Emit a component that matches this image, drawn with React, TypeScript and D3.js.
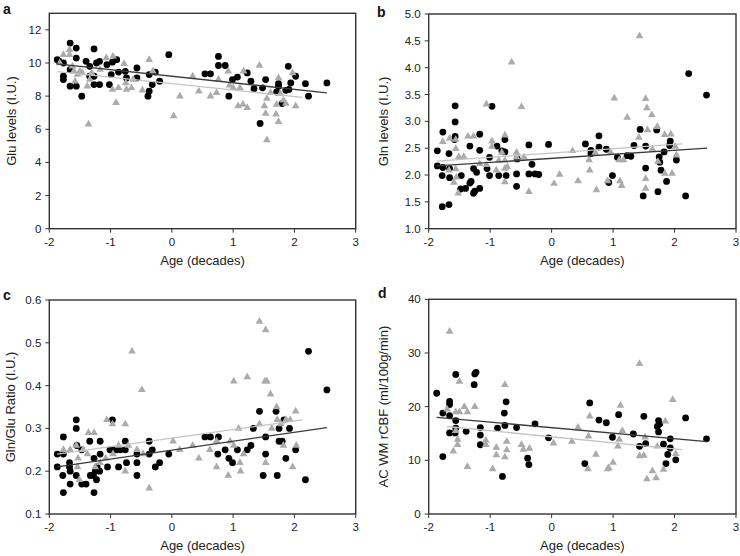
import React from 'react';
import * as d3 from 'd3';

type P = [number, number];

const xTicks = [-2, -1, 0, 1, 2, 3];
const aYTicks = [0, 2, 4, 6, 8, 10, 12];
const bYTicks = [1.0, 1.5, 2.0, 2.5, 3.0, 3.5, 4.0, 4.5, 5.0];
const cYTicks = [0.1, 0.2, 0.3, 0.4, 0.5, 0.6];
const dYTicks = [0, 10, 20, 30, 40];

// Panel a: Glu levels
const aCircles: P[] = [
  [-1.87, 10.2], [-1.84, 10.1], [-1.77, 10.0], [-1.77, 9.2], [-1.77, 9.0], [-1.66, 11.2], [-1.56, 10.9],
  [-1.56, 10.3], [-1.66, 8.6], [-1.56, 8.6], [-1.47, 8.0], [-1.66, 9.6], [-1.40, 10.1], [-1.34, 9.8],
  [-1.27, 10.85], [-1.27, 9.2], [-1.27, 8.7], [-1.23, 10.0], [-1.34, 9.2], [-1.18, 8.7], [-1.18, 10.1],
  [-1.06, 9.9], [-1.02, 8.7], [-0.99, 9.3], [-0.97, 10.05], [-0.90, 10.2], [-0.87, 9.45], [-0.76, 9.5],
  [-0.74, 9.1], [-0.57, 9.7], [-0.57, 9.1], [-0.39, 8.0], [-0.37, 8.3], [-0.37, 9.3], [-0.27, 9.45],
  [-0.32, 8.7], [-0.20, 8.9], [-0.05, 10.5], [0.54, 9.35], [0.63, 9.35], [0.76, 10.4], [0.76, 9.85],
  [0.87, 9.85], [0.93, 8.0], [0.99, 9.0], [1.07, 9.15], [1.23, 9.4], [1.29, 8.9], [1.34, 8.45],
  [1.44, 6.35], [1.48, 8.5], [1.53, 9.0], [1.71, 8.25], [1.74, 8.75], [1.74, 8.6], [1.80, 7.55],
  [1.90, 9.8], [1.86, 8.35], [1.91, 8.4], [1.94, 8.8], [2.02, 9.2], [2.18, 8.75], [2.23, 8.0], [2.53, 8.8],
];
const aTriangles: P[] = [
  [-1.77, 10.5], [-1.67, 10.8], [-1.67, 10.5], [-1.83, 10.0], [-1.62, 9.8], [-1.60, 9.5], [-1.54, 9.3],
  [-1.50, 9.5], [-1.58, 8.9], [-1.46, 9.4], [-1.38, 8.6], [-1.36, 6.3], [-1.31, 9.4], [-1.34, 9.0],
  [-1.17, 9.6], [-1.07, 10.3], [-0.97, 8.4], [-0.91, 7.6], [-0.87, 8.5], [-0.96, 10.4], [-0.78, 9.95],
  [-0.75, 8.8], [-0.74, 8.4], [-0.66, 8.5], [-0.63, 9.0], [-0.48, 8.35], [-0.37, 10.2], [-0.31, 9.5],
  [0.03, 6.8], [0.13, 8.0], [0.34, 9.2], [0.44, 8.3], [0.63, 8.0], [0.73, 8.2], [0.76, 9.0], [0.92, 9.5],
  [0.94, 8.65], [1.0, 8.5], [1.08, 7.4], [1.11, 8.5], [1.16, 7.5], [1.17, 9.5], [1.23, 7.3], [1.43, 9.85],
  [1.51, 7.4], [1.53, 6.95], [1.55, 7.85], [1.55, 5.35], [1.61, 8.2], [1.70, 6.9], [1.71, 7.5],
  [1.74, 9.1], [1.74, 6.45], [1.82, 7.75], [1.86, 7.55], [1.97, 9.4], [2.02, 7.4], [1.77, 8.15],
];
const aBlackFit: P[] = [[-1.88, 9.95], [2.53, 8.2]];
const aGrayFit: P[] = [[-1.87, 9.48], [2.13, 7.93]];

// Panel b: Gln levels
const bCircles: P[] = [
  [-1.86, 2.45], [-1.86, 2.17], [-1.77, 2.80], [-1.77, 2.14], [-1.78, 1.99], [-1.78, 1.41], [-1.67, 1.45],
  [-1.67, 2.40], [-1.66, 2.12], [-1.66, 1.95], [-1.57, 3.29], [-1.57, 2.99], [-1.57, 2.72], [-1.58, 2.66],
  [-1.47, 1.99], [-1.48, 1.74], [-1.40, 1.75], [-1.33, 1.85], [-1.31, 1.88], [-1.27, 1.66], [-1.25, 1.70],
  [-1.17, 1.75], [-1.33, 2.54], [-1.27, 2.12], [-1.22, 2.05], [-1.17, 2.76], [-1.17, 2.46], [-1.05, 2.12],
  [-1.01, 2.33], [-1.01, 1.99], [-0.97, 3.28], [-0.89, 2.54], [-0.86, 1.99], [-0.81, 2.45], [-0.76, 2.66],
  [-0.76, 2.43], [-0.74, 1.99], [-0.56, 2.30], [-0.57, 2.02], [-0.57, 1.79], [-0.37, 2.56], [-0.37, 2.02],
  [-0.32, 2.20], [-0.27, 2.02], [-0.21, 2.01], [-0.05, 2.57], [0.55, 2.58], [0.64, 2.46], [0.64, 2.40],
  [0.77, 2.73], [0.77, 2.52], [0.89, 2.48], [0.93, 1.86], [0.99, 1.99], [1.07, 2.33], [1.23, 2.36],
  [1.29, 2.35], [1.34, 2.55], [1.44, 2.85], [1.49, 1.61], [1.53, 2.54], [1.53, 2.13], [1.71, 2.84],
  [1.73, 1.69], [1.75, 2.34], [1.76, 2.24], [1.78, 2.09], [1.83, 2.43], [1.87, 1.88], [1.92, 2.55],
  [1.93, 2.63], [2.03, 2.28], [2.18, 1.61], [2.23, 3.89], [2.52, 3.49],
];
const bTriangles: P[] = [
  [-0.65, 4.1], [-1.06, 3.32], [-0.49, 3.27], [-1.77, 2.62], [-1.66, 2.68], [-1.56, 2.49], [-1.56, 2.66],
  [-1.51, 2.34], [-1.43, 2.34], [-1.36, 2.72], [-1.27, 2.72], [-1.56, 2.11], [-1.55, 1.96], [-1.59, 1.86],
  [-1.52, 1.66], [-1.67, 2.09], [-1.17, 2.21], [-1.06, 2.19], [-0.97, 2.63], [-0.97, 2.53], [-0.86, 2.27],
  [-0.76, 2.74], [-0.76, 2.27], [-0.76, 2.12], [-0.76, 1.87], [-0.90, 2.09], [-0.81, 2.42], [-0.72, 2.15],
  [-0.57, 2.42], [-0.57, 2.33], [-0.45, 2.33], [-0.37, 1.69], [0.04, 1.84], [0.13, 2.01], [0.34, 2.45],
  [0.43, 1.89], [0.61, 2.28], [0.62, 2.09], [0.71, 2.42], [0.73, 1.72], [0.91, 1.89], [0.96, 2.42],
  [1.02, 3.43], [1.10, 2.28], [1.11, 1.89], [1.14, 1.80], [1.17, 2.28], [1.23, 3.07], [1.42, 2.70],
  [1.43, 4.59], [1.53, 3.42], [1.53, 1.93], [1.53, 1.75], [1.55, 3.25], [1.56, 2.84], [1.63, 3.12],
  [1.64, 2.48], [1.72, 2.90], [1.73, 2.25], [1.84, 2.75], [1.84, 2.03], [1.94, 2.76], [1.96, 2.03],
  [2.01, 2.53], [2.03, 2.37],
];
const bBlackFit: P[] = [[-1.87, 2.17], [2.53, 2.50]];
const bGrayFit: P[] = [[-1.87, 2.26], [2.12, 2.58]];

// Panel c: Gln/Glu ratio
const cCircles: P[] = [
  [-1.87, 0.24], [-1.87, 0.21], [-1.77, 0.28], [-1.77, 0.24], [-1.78, 0.19], [-1.77, 0.15], [-1.67, 0.22],
  [-1.67, 0.21], [-1.66, 0.20], [-1.66, 0.17], [-1.56, 0.32], [-1.56, 0.30], [-1.55, 0.26], [-1.56, 0.19],
  [-1.47, 0.25], [-1.47, 0.17], [-1.40, 0.17], [-1.34, 0.27], [-1.33, 0.19], [-1.28, 0.19], [-1.27, 0.23],
  [-1.27, 0.15], [-1.25, 0.20], [-1.23, 0.18], [-1.22, 0.21], [-1.18, 0.20], [-1.17, 0.27], [-1.17, 0.24],
  [-1.05, 0.21], [-1.01, 0.25], [-0.97, 0.32], [-0.96, 0.25], [-0.90, 0.25], [-0.87, 0.21], [-0.84, 0.25],
  [-0.76, 0.27], [-0.76, 0.25], [-0.74, 0.22], [-0.57, 0.24], [-0.57, 0.22], [-0.57, 0.19], [-0.37, 0.27],
  [-0.37, 0.24], [-0.32, 0.25], [-0.27, 0.21], [-0.20, 0.22], [-0.05, 0.24], [0.54, 0.28], [0.63, 0.28],
  [0.76, 0.28], [0.75, 0.24], [0.87, 0.25], [0.93, 0.23], [0.99, 0.22], [1.07, 0.25], [1.23, 0.25],
  [1.29, 0.26], [1.33, 0.30], [1.43, 0.34], [1.53, 0.28], [1.53, 0.24], [1.49, 0.19], [1.70, 0.34],
  [1.72, 0.19], [1.75, 0.30], [1.75, 0.27], [1.80, 0.27], [1.83, 0.32], [1.86, 0.23], [1.92, 0.30],
  [2.02, 0.25], [2.18, 0.18], [2.23, 0.48], [2.53, 0.39],
];
const cTriangles: P[] = [
  [-0.65, 0.48], [-0.49, 0.39], [-0.37, 0.16], [-1.06, 0.32], [-0.97, 0.31], [-0.76, 0.31], [-0.76, 0.20],
  [-1.36, 0.29], [-1.27, 0.29], [-1.77, 0.25], [-1.66, 0.25], [-1.56, 0.26], [-1.53, 0.23], [-1.54, 0.21],
  [-1.51, 0.18], [-1.45, 0.25], [-1.38, 0.24], [-1.25, 0.21], [-1.17, 0.22], [-1.08, 0.23], [-0.96, 0.24],
  [-0.87, 0.26], [-0.71, 0.26], [-0.57, 0.25], [-0.47, 0.24], [0.02, 0.27], [0.13, 0.25], [0.34, 0.26],
  [0.44, 0.23], [0.62, 0.25], [0.73, 0.27], [0.73, 0.21], [0.92, 0.19], [0.95, 0.27], [1.01, 0.41],
  [1.01, 0.26], [1.09, 0.30], [1.11, 0.22], [1.12, 0.20], [1.17, 0.24], [1.23, 0.42], [1.43, 0.55],
  [1.43, 0.31], [1.53, 0.53], [1.52, 0.41], [1.55, 0.41], [1.53, 0.22], [1.61, 0.38], [1.63, 0.30],
  [1.71, 0.35], [1.72, 0.32], [1.78, 0.31], [1.82, 0.26], [1.86, 0.32], [1.93, 0.32], [1.97, 0.21],
  [2.02, 0.34], [2.03, 0.26],
];
const cBlackFit: P[] = [[-1.87, 0.21], [2.53, 0.302]];
const cGrayFit: P[] = [[-1.87, 0.24], [2.13, 0.32]];

// Panel d: AC WM rCBF
const dCircles: P[] = [
  [-1.87, 22.5], [-1.77, 18.8], [-1.77, 10.7], [-1.66, 21.0], [-1.66, 20.4], [-1.66, 18.3], [-1.66, 15.1],
  [-1.57, 15.1], [-1.56, 26.0], [-1.56, 17.4], [-1.56, 16.0], [-1.39, 15.4], [-1.26, 24.1], [-1.25, 26.1],
  [-1.23, 26.4], [-1.16, 14.7], [-1.16, 16.1], [-1.16, 12.9], [-0.88, 16.0], [-0.80, 7.0], [-0.77, 18.8],
  [-0.76, 16.5], [-0.74, 20.9], [-0.57, 16.1], [-0.39, 10.4], [-0.37, 9.2], [-0.27, 16.8], [-0.05, 14.2],
  [0.54, 9.4], [0.62, 20.7], [0.77, 17.5], [0.89, 17.0], [0.99, 14.3], [1.09, 18.5], [1.33, 14.9],
  [1.43, 12.6], [1.50, 18.2], [1.53, 13.1], [1.72, 16.3], [1.74, 17.4], [1.74, 15.3], [1.76, 16.8],
  [1.82, 13.0], [1.86, 9.4], [1.89, 11.1], [1.93, 12.3], [1.93, 14.0], [2.02, 10.1], [2.18, 17.9],
  [2.52, 14.0],
];
const dTriangles: P[] = [
  [-1.66, 34.0], [-1.70, 19.5], [-1.50, 24.7], [-1.56, 19.0], [-1.50, 19.0], [-1.60, 11.7], [-1.53, 12.9],
  [-1.53, 13.9], [-1.56, 15.5], [-1.42, 20.0], [-1.37, 19.0], [-1.37, 8.8], [-1.25, 20.0], [-1.07, 13.7],
  [-1.07, 12.9], [-0.90, 12.4], [-0.90, 11.0], [-0.96, 8.4], [-0.76, 24.1], [-0.76, 10.6], [-0.73, 13.5],
  [-0.73, 11.9], [-0.49, 12.9], [-0.46, 12.0], [-0.36, 12.2], [0.03, 13.2], [0.33, 13.5], [0.43, 16.1],
  [0.60, 14.5], [0.62, 18.2], [0.59, 8.4], [0.72, 11.1], [0.91, 8.4], [0.93, 8.6], [1.0, 9.6],
  [1.08, 12.6], [1.10, 13.9], [1.12, 20.2], [1.15, 15.5], [1.43, 28.0], [1.43, 10.8], [1.50, 10.9],
  [1.52, 14.3], [1.55, 6.5], [1.64, 8.0], [1.70, 6.7], [1.72, 12.6], [1.82, 8.3], [1.85, 17.3],
  [1.97, 21.3], [2.02, 11.2],
];
const dBlackFit: P[] = [[-1.87, 18.0], [2.53, 13.5]];
const dGrayFit: P[] = [[-1.70, 16.3], [2.12, 12.0]];

const FONT = '"Liberation Sans", Arial, Helvetica, sans-serif';
const TEXT = '#222';
const FRAME = '#333';
const BLACK = '#000';
const GRAY = '#ababab';

interface PanelProps {
  label: string;
  labelX: number;
  labelY: number;
  left: number;
  right: number;
  top: number;
  bottom: number;
  yDomain: [number, number];
  yTicks: number[];
  yFmt: (v: number) => string;
  yTitle: string;
  yTitleX: number;
  circles: P[];
  triangles: P[];
  blackFit: P[];
  grayFit: P[];
}

const triPath = d3.symbol().type(d3.symbolTriangle).size(26)() as string;

function Panel(p: PanelProps) {
  const x = d3.scaleLinear().domain([-2, 3]).range([p.left, p.right]);
  const y = d3.scaleLinear().domain(p.yDomain).range([p.bottom, p.top]);
  const line = d3.line<P>().x((d) => x(d[0])).y((d) => y(d[1]));
  const midY = (p.top + p.bottom) / 2;
  const midX = (p.left + p.right) / 2;
  return (
    <g>
      <text x={p.labelX} y={p.labelY} fontFamily={FONT} fontWeight="bold" fontSize={14} fill="#111">
        {p.label}
      </text>
      {p.circles.map((d, i) => (
        <circle key={'c' + i} cx={x(d[0])} cy={y(d[1])} r={3.4} fill={BLACK} />
      ))}
      {p.triangles.map((d, i) => (
        <path key={'t' + i} d={triPath} transform={`translate(${x(d[0])},${y(d[1])})`} fill={GRAY} />
      ))}
      <path d={line(p.grayFit) || ''} stroke="#c4c4c4" strokeWidth={1.3} fill="none" />
      <path d={line(p.blackFit) || ''} stroke="#3a3a3a" strokeWidth={1.3} fill="none" />
      <rect x={p.left} y={p.top} width={p.right - p.left} height={p.bottom - p.top} fill="none" stroke={FRAME} strokeWidth={1.4} />
      {p.yTicks.map((t) => (
        <g key={'yt' + t}>
          <line x1={p.left - 4} x2={p.left} y1={y(t)} y2={y(t)} stroke={FRAME} strokeWidth={1} />
          <text x={p.left - 8} y={y(t)} dy="0.35em" textAnchor="end" fontFamily={FONT} fontSize={11.5} fill={TEXT}>
            {p.yFmt(t)}
          </text>
        </g>
      ))}
      {xTicks.map((t) => (
        <g key={'xt' + t}>
          <line x1={x(t)} x2={x(t)} y1={p.bottom} y2={p.bottom + 4} stroke={FRAME} strokeWidth={1} />
          <text x={x(t)} y={p.bottom + 17} textAnchor="middle" fontFamily={FONT} fontSize={11.5} fill={TEXT}>
            {t}
          </text>
        </g>
      ))}
      <text x={midX} y={p.bottom + 36} textAnchor="middle" fontFamily={FONT} fontSize={13} fill={TEXT}>
        Age (decades)
      </text>
      <text
        transform={`translate(${p.yTitleX},${midY}) rotate(-90)`}
        textAnchor="middle"
        dy="0.35em"
        fontFamily={FONT}
        fontSize={13}
        fill={TEXT}
      >
        {p.yTitle}
      </text>
    </g>
  );
}

export default function App() {
  const f0 = (v: number) => d3.format('d')(v);
  const f1 = (v: number) => d3.format('.1f')(v);
  return (
    <svg width={740} height={556} style={{ position: 'absolute', left: 0, top: 0, background: '#fff' }}>
      <rect width={740} height={556} fill="#fff" />
      <Panel label="a" labelX={3} labelY={14} left={49.3} right={355.7} top={13.3} bottom={228.7}
        yDomain={[0, 13]} yTicks={aYTicks} yFmt={f0} yTitle="Glu levels (I.U.)" yTitleX={11}
        circles={aCircles} triangles={aTriangles} blackFit={aBlackFit} grayFit={aGrayFit} />
      <Panel label="b" labelX={377} labelY={17} left={428.7} right={736} top={14} bottom={228.7}
        yDomain={[1, 5]} yTicks={bYTicks} yFmt={f1} yTitle="Gln levels (I.U.)" yTitleX={383}
        circles={bCircles} triangles={bTriangles} blackFit={bBlackFit} grayFit={bGrayFit} />
      <Panel label="c" labelX={3} labelY={300} left={49.3} right={355.7} top={300} bottom={514}
        yDomain={[0.1, 0.6]} yTicks={cYTicks} yFmt={f1} yTitle="Gln/Glu Ratio (I.U.)" yTitleX={10}
        circles={cCircles} triangles={cTriangles} blackFit={cBlackFit} grayFit={cGrayFit} />
      <Panel label="d" labelX={378} labelY={298} left={428.7} right={736} top={299.3} bottom={514}
        yDomain={[0, 40]} yTicks={dYTicks} yFmt={f0} yTitle="AC WM rCBF (ml/100g/min)" yTitleX={383}
        circles={dCircles} triangles={dTriangles} blackFit={dBlackFit} grayFit={dGrayFit} />
    </svg>
  );
}
